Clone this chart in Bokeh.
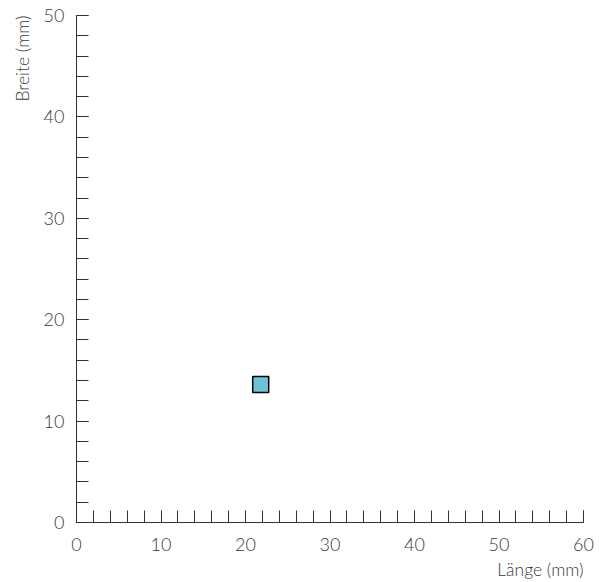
from bokeh.plotting import figure
from bokeh.models import FixedTicker, Range1d, Title
from bokeh.embed import file_html
from bokeh.resources import INLINE

# data
laenge = [21.8]
breite = [13.6]
x_ticks = [0, 10, 20, 30, 40, 50, 60]
y_ticks = [0, 10, 20, 30, 40, 50]
x_minor = list(range(0, 61, 2))
y_minor = list(range(0, 51, 2))

FONT = "Lato Light"
TXT = "#3a3a3a"

p = figure(width=599, height=582, output_backend="svg", toolbar_location=None,
           x_range=Range1d(0, 60), y_range=Range1d(0, 50),
           min_border_left=76, min_border_right=16, min_border_top=15, min_border_bottom=60)
p.outline_line_color = None
p.grid.visible = False
p.background_fill_color = "white"
p.border_fill_color = "white"

for ax, ticks, minor in ((p.xaxis[0], x_ticks, x_minor), (p.yaxis[0], y_ticks, y_minor)):
    ax.ticker = FixedTicker(ticks=ticks, minor_ticks=minor)
    ax.major_tick_in = 12
    ax.major_tick_out = 0
    ax.minor_tick_in = 12
    ax.minor_tick_out = 0
    ax.axis_line_color = "#333333"
    ax.major_tick_line_color = "#333333"
    ax.minor_tick_line_color = "#333333"
    ax.major_label_text_font = FONT
    ax.major_label_text_font_size = "18px"
    ax.major_label_text_color = TXT
    ax.major_label_text_font_style = "normal"

p.xaxis.major_label_standoff = 15
p.yaxis.major_label_standoff = 12

p.scatter(laenge, breite, marker="square", size=16, fill_color="#6cc3d5",
          line_color="black", line_width=1.5)

p.add_layout(Title(text="Länge (mm)", align="right", text_font=FONT,
                   text_font_size="17.5px", text_color=TXT, text_font_style="normal",
                   standoff=6), "below")
p.add_layout(Title(text="Breite (mm)", align="right", text_font=FONT,
                   text_font_size="17.5px", text_color=TXT, text_font_style="normal",
                   standoff=16), "left")

open("out.html", "w").write(file_html(p, INLINE))
